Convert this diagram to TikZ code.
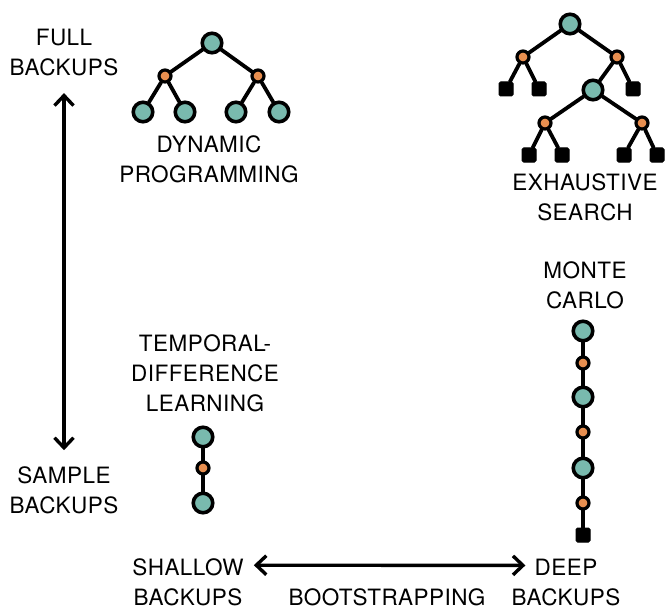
\documentclass[tikz,border=0pt]{standalone}
\usepackage{fontspec}
\setmainfont{TeX Gyre Heros}[LetterSpace=2]
\usetikzlibrary{arrows.meta}
\definecolor{statecol}{RGB}{121,186,174}
\definecolor{actioncol}{RGB}{232,143,80}

\tikzset{
  state/.style={circle,draw=black,fill=statecol,line width=3.6pt,minimum size=19.5pt,inner sep=0pt},
  action/.style={circle,draw=black,fill=actioncol,line width=3.2pt,minimum size=12pt,inner sep=0pt},
  terminal/.style={rectangle,draw=black,fill=black,line width=1pt,minimum size=14pt,inner sep=0pt,rounded corners=1.5pt},
  label/.style={align=center,inner sep=0pt,font=\fontsize{22.5}{30}\selectfont},
  branch/.style={line width=3.8pt},
  axis/.style={line width=3.4pt,{Straight Barb[length=10pt,width=19pt]}-{Straight Barb[length=10pt,width=19pt]}}
}

\begin{document}
\begin{tikzpicture}[x=1pt,y=-1pt,line cap=round,line join=round]

    \useasboundingbox (0,0) rectangle (665,610);

		% axis labels
		\node[label] (full)    at (64,52.5)  {FULL\\BACKUPS};
		\node[label] (sample)  at (64,490)   {SAMPLE\\BACKUPS};
		\node[label] (shallow) at (188,582)  {SHALLOW\\BACKUPS};
		\node[label] (deep)    at (566,582)  {DEEP\\BACKUPS};
		\node[label] (boot)    at (387,597)  {BOOTSTRAPPING};

		% axes
		\draw [axis] (full) -- (sample)
		  [shorten <=17pt,shorten >=16pt];
		\draw [axis] ([yshift=-7pt]shallow.north east) -- ([yshift=-7pt]deep.north west)
		  [shorten <=10pt,shorten >=-14pt];

		% dynamic programming
		\node[state]  (dp)   at (212,43) {};
		\node[action] (dpa1) at (165,76) {};
		\node[action] (dpa2) at (258,76) {};
		\node[state]  (dps1) at (143,112) {};
		\node[state]  (dps2) at (185,112) {};
		\node[state]  (dps3) at (236,112) {};
		\node[state]  (dps4) at (279,112) {};
		\draw [branch] (dp)--(dpa1) (dp)--(dpa2);
		\draw [branch] (dpa1)--(dps1) (dpa1)--(dps2) (dpa2)--(dps3) (dpa2)--(dps4);
		\node[label] (dplabel) at (209,159) {DYNAMIC\\PROGRAMMING};

		% exhaustive search
		\node[state]    (ex)    at (570,24)  {};
		\node[action]   (exa1)  at (523,57)  {};
		\node[action]   (exa2)  at (617,57)  {};
		\node[terminal] (ext1)  at (506,89)  {};
		\node[terminal] (ext2)  at (539,89)  {};
		\node[terminal] (ext3)  at (633,89)  {};
		\node[state]    (exs)   at (593,90)  {};
		\node[action]   (exa3)  at (545,123) {};
		\node[action]   (exa4)  at (642,123) {};
		\node[terminal] (ext4)  at (529,155) {};
		\node[terminal] (ext5)  at (562,155) {};
		\node[terminal] (ext6)  at (624,155) {};
		\node[terminal] (ext7)  at (657,155) {};
		\draw [branch] (ex)--(exa1) (ex)--(exa2);
		\draw [branch] (exa1)--(ext1) (exa1)--(ext2) (exa2)--(exs) (exa2)--(ext3);
		\draw [branch] (exs)--(exa3) (exs)--(exa4);
		\draw [branch] (exa3)--(ext4) (exa3)--(ext5) (exa4)--(ext6) (exa4)--(ext7);
		\node[label] (exlabel) at (585,197) {EXHAUSTIVE\\SEARCH};

		% temporal-difference
		\node[label] (tdlabel) at (205,373) {TEMPORAL-\\DIFFERENCE\\LEARNING};
		\node[state]  (td1) at (203,437) {};
		\node[action] (td2) at (203,468) {};
		\node[state]  (td3) at (203,503) {};
		\draw [branch] (td1)--(td2)--(td3);

		% monte carlo
		\node[label] (mclabel) at (585,285) {MONTE\\CARLO};
		\node[state]    (mc1) at (583,331) {};
		\node[action]   (mc2) at (583,363) {};
		\node[state]    (mc3) at (583,397) {};
		\node[action]   (mc4) at (583,432) {};
		\node[state]    (mc5) at (583,468) {};
		\node[action]   (mc6) at (583,503) {};
		\node[terminal] (mc7) at (583,535) {};
		\draw [branch] (mc1)--(mc2)--(mc3)--(mc4)--(mc5)--(mc6)--(mc7);

    \end{tikzpicture}
\end{document}
